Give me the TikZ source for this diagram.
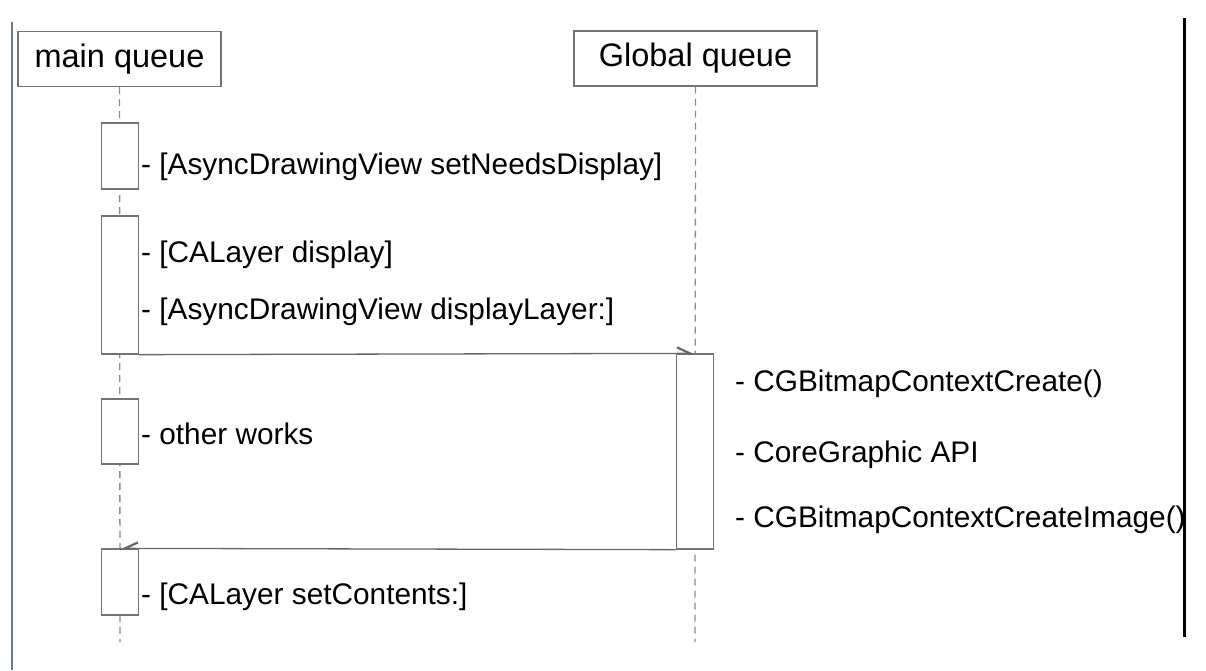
\documentclass[tikz,border=0pt]{standalone}
\usepackage{fontspec}
\setmainfont{Liberation Sans}
\usetikzlibrary{arrows.meta}
\definecolor{framegray}{HTML}{6B7B8C}
\tikzstyle{queue}=[draw=black!55,line width=1.3pt,fill=white,inner sep=0pt,minimum height=55pt,font=\fontsize{32.5}{38}\selectfont]
\tikzstyle{activation}=[draw=black!55,line width=1.3pt,fill=white,inner sep=0pt,minimum width=37pt]
\tikzstyle{lifeline}=[draw=black!45,line width=1.3pt,dash pattern=on 7pt off 5pt]
\tikzstyle{call}=[draw=black!60,line width=1.3pt,-{Straight Barb[left,length=13pt,width=12pt,line width=2.2pt]}]
\tikzstyle{reply}=[draw=black!60,line width=1.3pt,-{Straight Barb[right,length=13pt,width=12pt,line width=2.2pt]}]
\tikzstyle{label}=[anchor=base west,inner sep=0pt,font=\fontsize{29.8}{35}\selectfont]

\begin{document}
\begin{tikzpicture}[x=1pt,y=-1pt]
\useasboundingbox (0,0) rectangle (1206,670);
% screen edges
\draw[framegray,line width=2.5pt] (12,22) -- (12,670);
\draw[black,line width=3pt] (1184,18) -- (1184,637);

\node[queue,minimum width=203pt] (mainq) at (119.5,59) {main queue};
\node[queue,minimum width=243pt] (globq) at (695.5,58.5) {Global queue};
\coordinate (mainend) at (120,642);
\coordinate (globend) at (695,642);
\draw[lifeline] (mainq) -- (mainend);
\draw[lifeline] (globq) -- (globend);

\foreach \name/\top/\bot in {act-1/123/189, act-2/216/354,
                             act-3/399/464, act-4/549/615}
  \node[activation,minimum height={\bot-\top}] (\name) at (120,{(\top+\bot)/2}) {};
\node[activation,minimum height=195pt] (gact) at (695,451.5) {};

\draw[call] (act-2.south east) -- (gact.north);
\draw[reply] (gact.south west) -- (act-4.north);

\node[label] (l-1) at (141,174) {- [AsyncDrawingView setNeedsDisplay]};
\node[label] (l-2) at (141,262) {- [CALayer display]};
\node[label] (l-3) at (141,319) {- [AsyncDrawingView displayLayer:]};
\node[label] (l-4) at (141,444) {- other works};
\node[label] (l-5) at (141,604) {- [CALayer setContents:]};
\node[label] (g-1) at (735,391) {- CGBitmapContextCreate()};
\node[label] (g-2) at (735,462) {- CoreGraphic API};
\node[label] (g-3) at (735,527) {- CGBitmapContextCreateImage()};
\end{tikzpicture}
\end{document}
